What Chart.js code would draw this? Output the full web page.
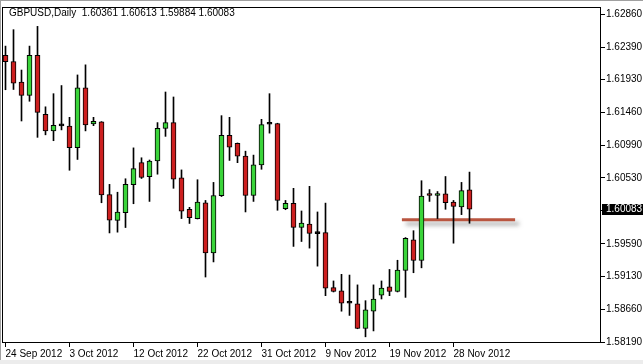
<!DOCTYPE html>
<html>
<head>
<meta charset="utf-8">
<script src="https://cdn.jsdelivr.net/npm/chart.js@4/dist/chart.umd.min.js"></script>
<style>
html,body{margin:0;padding:0;background:#fff;overflow:hidden}
#wrap{width:643px;height:364px}
</style>
</head>
<body>
<div id="wrap"><canvas id="chart" width="643" height="364"></canvas></div>
<script>
// GBPUSD daily candles, 24 Sep 2012 .. 30 Nov 2012 (Sunday bars included)
const chartTitle = "GBPUSD,Daily  1.60361 1.60613 1.59884 1.60083";

const opens = [
  1.62277,1.62189,1.61894,1.61706,1.62277,1.61435,1.61200,1.61271,1.61267,1.60962,
  1.61814,1.61299,1.61330,1.60291,1.59926,1.60035,1.60434,1.60747,1.60546,1.60771,
  1.61234,1.61318,1.60532,1.60083,1.59951,1.60176,1.59460,1.60277,1.61136,1.61024,
  1.60841,1.60279,1.60715,1.61295,1.61304,1.60091,1.60167,1.59825,1.59872,1.59736,
  1.59750,1.58967,1.58922,1.58744,1.58735,1.58384,1.58631,1.58861,1.58978,1.58912,
  1.59212,1.59648,1.59353,1.60305,1.60279,1.60305,1.60185,1.60115,1.60361
];
const highs = [
  1.62408,1.62642,1.62067,1.62408,1.62689,1.61543,1.61730,1.61846,1.61393,1.61997,
  1.62141,1.61393,1.61332,1.60438,1.60326,1.60518,1.60958,1.60817,1.60785,1.61318,
  1.61754,1.61683,1.60644,1.60111,1.60504,1.60209,1.60466,1.61417,1.61393,1.61028,
  1.60911,1.60855,1.61365,1.61730,1.61309,1.60209,1.60382,1.60059,1.60410,1.60045,
  1.60171,1.59062,1.59156,1.59146,1.59006,1.58781,1.59006,1.59062,1.59226,1.59357,
  1.59680,1.59778,1.60490,1.60364,1.60336,1.60550,1.60209,1.60466,1.60613
];
const lows = [
  1.61786,1.61790,1.61341,1.61622,1.61108,1.61144,1.61060,1.61214,1.60639,1.60793,
  1.61200,1.61274,1.60176,1.59746,1.59757,1.59823,1.60162,1.60522,1.60195,1.60583,
  1.61122,1.60382,1.59951,1.59881,1.59945,1.59118,1.59333,1.60265,1.60779,1.60747,
  1.60045,1.60195,1.60653,1.61168,1.60069,1.60077,1.59554,1.59624,1.59530,1.59273,
  1.58852,1.58905,1.58631,1.58571,1.58381,1.58266,1.58350,1.58805,1.58852,1.58905,
  1.58828,1.59179,1.59249,1.60195,1.59951,1.60083,1.59600,1.60007,1.59884
];
const closes = [
  1.62186,1.61880,1.61706,1.62277,1.61463,1.61200,1.61280,1.61271,1.60962,1.61814,
  1.61285,1.61337,1.60288,1.59928,1.60042,1.60438,1.60663,1.60536,1.60771,1.61238,
  1.61318,1.60512,1.60055,1.59965,1.60185,1.59460,1.60279,1.61136,1.60967,1.60841,
  1.60279,1.60715,1.61290,1.61295,1.60209,1.60167,1.59825,1.59886,1.59740,1.59736,
  1.58960,1.58912,1.58744,1.58744,1.58384,1.58651,1.58805,1.58960,1.58912,1.59217,
  1.59670,1.59353,1.60270,1.60279,1.60305,1.60176,1.60125,1.60350,1.60083
];

// date ticks every 8 bars
const xTickIndex = [0, 8, 16, 24, 32, 40, 48, 56];
const xTickLabels = ["24 Sep 2012","3 Oct 2012","12 Oct 2012","22 Oct 2012","31 Oct 2012","9 Nov 2012","19 Nov 2012","28 Nov 2012"];
const yTickLabels = ["1.62860","1.62390","1.61930","1.61460","1.60990","1.60530","1.60060","1.59590","1.59130","1.58660","1.58190"];

// hand-drawn support line (bar index range, price)
const supportX = [49.55, 63.7];
const supportLevel = 1.59933;

const bullColor = "#3ad43a";
const bearColor = "#cc1f1f";
const font = {family:"Liberation Sans, Arial, sans-serif", size:10};

function bodyColor(i){
  if (closes[i] > opens[i]) return bullColor;
  if (closes[i] < opens[i]) return bearColor;
  return "#000";
}

const framePlugin = {
  id:"frame",
  beforeDraw(chart){
    const ctx = chart.ctx;
    ctx.save();
    ctx.fillStyle = "#fff";
    ctx.fillRect(0,0,chart.width,chart.height);
    ctx.fillStyle = "#ececec";
    ctx.fillRect(0,360,chart.width,4);
    ctx.fillStyle = "#a0a0a0";
    ctx.fillRect(0,0,1,360);
    ctx.fillRect(0,0,chart.width,1);
    ctx.restore();
  },
  beforeDatasetDraw(chart,args){
    if (args.index === 2){
      const ctx = chart.ctx;
      ctx.save();
      ctx.shadowColor = "rgba(90,90,90,0.55)";
      ctx.shadowBlur = 4;
      ctx.shadowOffsetX = 4;
      ctx.shadowOffsetY = 4;
    }
  },
  afterDatasetDraw(chart,args){
    if (args.index === 2) chart.ctx.restore();
  },
  afterDraw(chart){
    const ctx = chart.ctx;
    const a = chart.chartArea;
    ctx.save();
    ctx.strokeStyle = "#000";
    ctx.lineWidth = 1;
    ctx.strokeRect(a.left+0.5, a.top+0.5, a.right-a.left-1, a.bottom-a.top-1);
    // title
    ctx.fillStyle = "#000";
    ctx.font = "10px " + font.family;
    ctx.textBaseline = "middle";
    ctx.textAlign = "left";
    ctx.fillText(chartTitle, 9, 13);
    // current price box
    const last = closes[closes.length-1];
    const y = Math.round(chart.scales.y.getPixelForValue(last));
    ctx.fillStyle = "#000";
    ctx.fillRect(a.right+1, y-5, chart.width-a.right-1, 11);
    ctx.fillStyle = "#fff";
    ctx.fillText(last.toFixed(5), a.right+5, y+0.5);
    ctx.restore();
  }
};

new Chart(document.getElementById("chart"), {
  type:"bar",
  data:{
    datasets:[
      {
        label:"body",
        data:opens.map((o,i)=>({x:i, y:[o, closes[i]]})),
        backgroundColor:opens.map((o,i)=>bodyColor(i)),
        borderColor:"#000",
        borderWidth:1,
        borderSkipped:false,
        barThickness:5,
        minBarLength:2,
        grouped:false
      },
      {
        label:"wick",
        data:lows.map((l,i)=>({x:i, y:[l, highs[i]]})),
        backgroundColor:"#000",
        borderWidth:0,
        barThickness:1,
        grouped:false
      },
      {
        type:"line",
        label:"support",
        data:supportX.map(x=>({x, y:supportLevel})),
        borderColor:"#b9553f",
        borderWidth:3,
        borderCapStyle:"butt",
        pointRadius:0,
        fill:false
      }
    ]
  },
  options:{
    responsive:false,
    devicePixelRatio:1,
    animation:false,
    layout:{padding:{left:2, top:2, right:0, bottom:0}},
    plugins:{legend:{display:false}, tooltip:{enabled:false}, title:{display:false}},
    scales:{
      x:{
        type:"linear",
        min:-0.4375,
        max:74.4375,
        offset:false,
        afterBuildTicks:s=>{ s.ticks = xTickIndex.map(v=>({value:v})); },
        afterFit:s=>{ s.height = 21; },
        ticks:{
          align:"start",
          autoSkip:false,
          maxRotation:0,
          padding:1,
          color:"#000",
          font,
          callback:(v,i)=>xTickLabels[i]
        },
        grid:{display:true, drawOnChartArea:false, offset:false, tickLength:4, tickColor:"#000", color:"#000"},
        border:{display:false}
      },
      y:{
        type:"linear",
        position:"right",
        min:1.58178,
        max:1.62965,
        afterBuildTicks:s=>{ s.ticks = yTickLabels.map(t=>({value:parseFloat(t)})); },
        afterFit:s=>{ s.width = 42; },
        ticks:{
          autoSkip:false,
          padding:1,
          color:"#000",
          font,
          callback:(v,i)=>yTickLabels[i]
        },
        grid:{display:true, drawOnChartArea:false, tickLength:4, tickColor:"#000", color:"#000"},
        border:{display:false}
      }
    }
  },
  plugins:[framePlugin]
});
</script>
</body>
</html>
